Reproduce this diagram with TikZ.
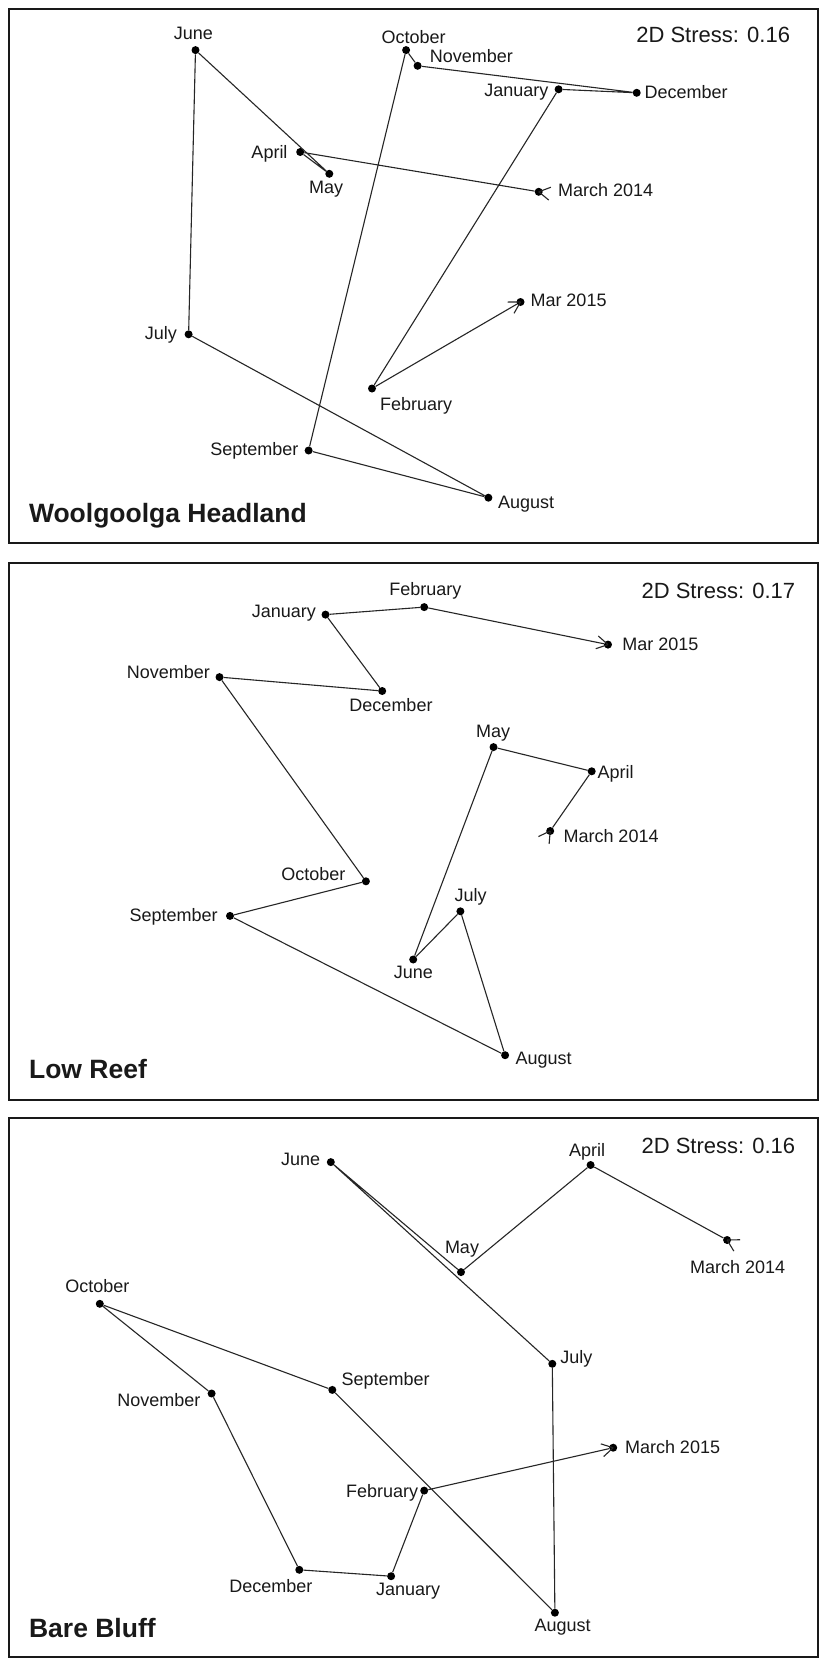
\documentclass[tikz,border=0pt]{standalone}
\usepackage{fontspec}
\setmainfont{Liberation Sans}
\usetikzlibrary{calc}
\tikzset{
  mdot/.style={circle, fill=black, inner sep=0pt, minimum size=8pt},
  conn/.style={draw=black!85, line width=1.1pt},
  lab/.style={inner sep=0pt, text=black!90, font=\fontsize{18}{20}\selectfont},
  stress/.style={inner sep=0pt, text=black!90, font=\fontsize{22}{24}\selectfont, anchor=base east},
  ttl/.style={inner sep=0pt, text=black!90, font=\fontsize{26.5}{28}\selectfont\bfseries, anchor=base west},
  frame/.style={draw=black!90, line width=2pt},
}
\newcommand{\arrowfin}[2]{%
  \draw[conn] (#1.center) -- ($(#1.center)!13pt!30:(#2.center)$);
  \draw[conn] (#1.center) -- ($(#1.center)!13pt!-30:(#2.center)$);}
\newcommand{\arrowbeg}[2]{%
  \draw[conn] (#1.center) -- ($(#1.center)!13pt!150:(#2.center)$);
  \draw[conn] (#1.center) -- ($(#1.center)!13pt!210:(#2.center)$);}
\begin{document}
\begin{tikzpicture}[x=1pt,y=-1pt]
\useasboundingbox (0,0) rectangle (823,1665);
\fill[white] (0,0) rectangle (823,1665);

% ---------------- Panel 1 ----------------
\draw[frame] (9,9) rectangle (818,543);
\node[mdot] (p1m14) at (538.7,191.8) {};
\node[mdot] (p1apr) at (300.2,152.0) {};
\node[mdot] (p1may) at (329.3,173.8) {};
\node[mdot] (p1jun) at (195.5,50.1) {};
\node[mdot] (p1jul) at (188.6,334.3) {};
\node[mdot] (p1aug) at (488.4,497.7) {};
\node[mdot] (p1sep) at (308.6,450.5) {};
\node[mdot] (p1oct) at (406.1,50.1) {};
\node[mdot] (p1nov) at (417.6,65.8) {};
\node[mdot] (p1dec) at (636.7,92.8) {};
\node[mdot] (p1jan) at (558.6,89.3) {};
\node[mdot] (p1feb) at (372.0,388.5) {};
\node[mdot] (p1m15) at (520.5,302.0) {};
\draw[conn] (p1m14) -- (p1apr) -- (p1may) -- (p1jun) -- (p1jul) -- (p1aug) -- (p1sep) -- (p1oct) -- (p1nov) -- (p1dec) -- (p1jan) -- (p1feb) -- (p1m15);
\arrowfin{p1m15}{p1feb}
\arrowbeg{p1m14}{p1apr}
\node[lab, anchor=base] (l1jun) at (193.3,39.6) {June};
\node[lab, anchor=base] (l1oct) at (413.7,43.1) {October};
\node[lab, anchor=base west] (l1nov) at (429.7,62.3) {November};
\node[lab, anchor=base east] (l1jan) at (548.6,96.3) {January};
\node[lab, anchor=base west] (l1dec) at (644.5,98.0) {December};
\node[lab, anchor=base east] (l1apr) at (287.7,158.2) {April};
\node[lab, anchor=base] (l1may) at (326.2,193.6) {May};
\node[lab, anchor=base west] (l1m14) at (558.0,196.7) {March 2014};
\node[lab, anchor=base west] (l1m15) at (530.3,306.3) {Mar 2015};
\node[lab, anchor=base east] (l1jul) at (177.1,339.5) {July};
\node[lab, anchor=base west] (l1feb) at (379.9,410.2) {February};
\node[lab, anchor=base east] (l1sep) at (298.7,455.0) {September};
\node[lab, anchor=base west] (l1aug) at (497.8,508.2) {August};
\node[stress] (s1) at (790.2,42.7) {2D Stress: 0.16};
\node[ttl] (t1) at (28.8,522.6) {Woolgoolga Headland};

% ---------------- Panel 2 ----------------
\draw[frame] (9,563) rectangle (818,1100);
\node[mdot] (p2m14) at (550.2,831.0) {};
\node[mdot] (p2apr) at (591.7,771.3) {};
\node[mdot] (p2may) at (493.5,747.1) {};
\node[mdot] (p2jun) at (413.2,959.5) {};
\node[mdot] (p2jul) at (460.4,911.3) {};
\node[mdot] (p2aug) at (505.1,1055.2) {};
\node[mdot] (p2sep) at (230.0,915.9) {};
\node[mdot] (p2oct) at (365.9,881.3) {};
\node[mdot] (p2nov) at (219.5,677.1) {};
\node[mdot] (p2dec) at (382.2,691.0) {};
\node[mdot] (p2jan) at (325.5,614.6) {};
\node[mdot] (p2feb) at (424.2,607.1) {};
\node[mdot] (p2m15) at (608.0,644.6) {};
\draw[conn] (p2m14) -- (p2apr) -- (p2may) -- (p2jun) -- (p2jul) -- (p2aug) -- (p2sep) -- (p2oct) -- (p2nov) -- (p2dec) -- (p2jan) -- (p2feb) -- (p2m15);
\arrowfin{p2m15}{p2feb}
\arrowbeg{p2m14}{p2apr}
\node[lab, anchor=base] (l2feb) at (425.3,595.7) {February};
\node[lab, anchor=base east] (l2jan) at (316.0,617.8) {January};
\node[lab, anchor=base west] (l2m15) at (622.1,650.0) {Mar 2015};
\node[lab, anchor=base east] (l2nov) at (210.0,678.5) {November};
\node[lab, anchor=base] (l2dec) at (391.0,711.4) {December};
\node[lab, anchor=base] (l2may) at (493.2,737.4) {May};
\node[lab, anchor=base west] (l2apr) at (597.5,778.5) {April};
\node[lab, anchor=base west] (l2m14) at (563.3,842.7) {March 2014};
\node[lab, anchor=base east] (l2oct) at (345.5,880.2) {October};
\node[lab, anchor=base] (l2jul) at (470.6,901.6) {July};
\node[lab, anchor=base east] (l2sep) at (217.9,921.3) {September};
\node[lab, anchor=base] (l2jun) at (413.4,978.4) {June};
\node[lab, anchor=base west] (l2aug) at (515.5,1064.0) {August};
\node[stress] (s2) at (795.4,598.2) {2D Stress: 0.17};
\node[ttl] (t2) at (28.9,1078.4) {Low Reef};

% ---------------- Panel 3 ----------------
\draw[frame] (9,1118) rectangle (818,1657);
\node[mdot] (p3m14) at (727.1,1240.0) {};
\node[mdot] (p3apr) at (590.6,1165.0) {};
\node[mdot] (p3may) at (461.0,1272.1) {};
\node[mdot] (p3jun) at (330.8,1162.1) {};
\node[mdot] (p3jul) at (552.3,1363.8) {};
\node[mdot] (p3aug) at (554.9,1612.7) {};
\node[mdot] (p3sep) at (332.3,1389.9) {};
\node[mdot] (p3oct) at (99.8,1303.8) {};
\node[mdot] (p3nov) at (211.6,1393.5) {};
\node[mdot] (p3dec) at (299.3,1569.8) {};
\node[mdot] (p3jan) at (391.1,1576.2) {};
\node[mdot] (p3feb) at (424.2,1490.6) {};
\node[mdot] (p3m15) at (613.2,1447.7) {};
\draw[conn] (p3m14) -- (p3apr) -- (p3may) -- (p3jun) -- (p3jul) -- (p3aug) -- (p3sep) -- (p3oct) -- (p3nov) -- (p3dec) -- (p3jan) -- (p3feb) -- (p3m15);
\arrowfin{p3m15}{p3feb}
\arrowbeg{p3m14}{p3apr}
\node[lab, anchor=base east] (l3jun) at (320.3,1165.7) {June};
\node[lab, anchor=base] (l3apr) at (587.0,1156.8) {April};
\node[lab, anchor=base] (l3may) at (462.0,1253.2) {May};
\node[lab, anchor=base] (l3m14) at (737.6,1273.5) {March 2014};
\node[lab, anchor=base] (l3oct) at (97.4,1292.4) {October};
\node[lab, anchor=base west] (l3jul) at (560.2,1363.8) {July};
\node[lab, anchor=base west] (l3sep) at (341.3,1385.2) {September};
\node[lab, anchor=base east] (l3nov) at (200.6,1406.7) {November};
\node[lab, anchor=base west] (l3m15) at (624.8,1453.0) {March 2015};
\node[lab, anchor=base east] (l3feb) at (418.4,1497.7) {February};
\node[lab, anchor=base] (l3dec) at (270.9,1592.3) {December};
\node[lab, anchor=base] (l3jan) at (408.2,1595.9) {January};
\node[lab, anchor=base] (l3aug) at (562.6,1631.6) {August};
\node[stress] (s3) at (795.4,1153.2) {2D Stress: 0.16};
\node[ttl] (t3) at (28.9,1637.0) {Bare Bluff};
\end{tikzpicture}
\end{document}
